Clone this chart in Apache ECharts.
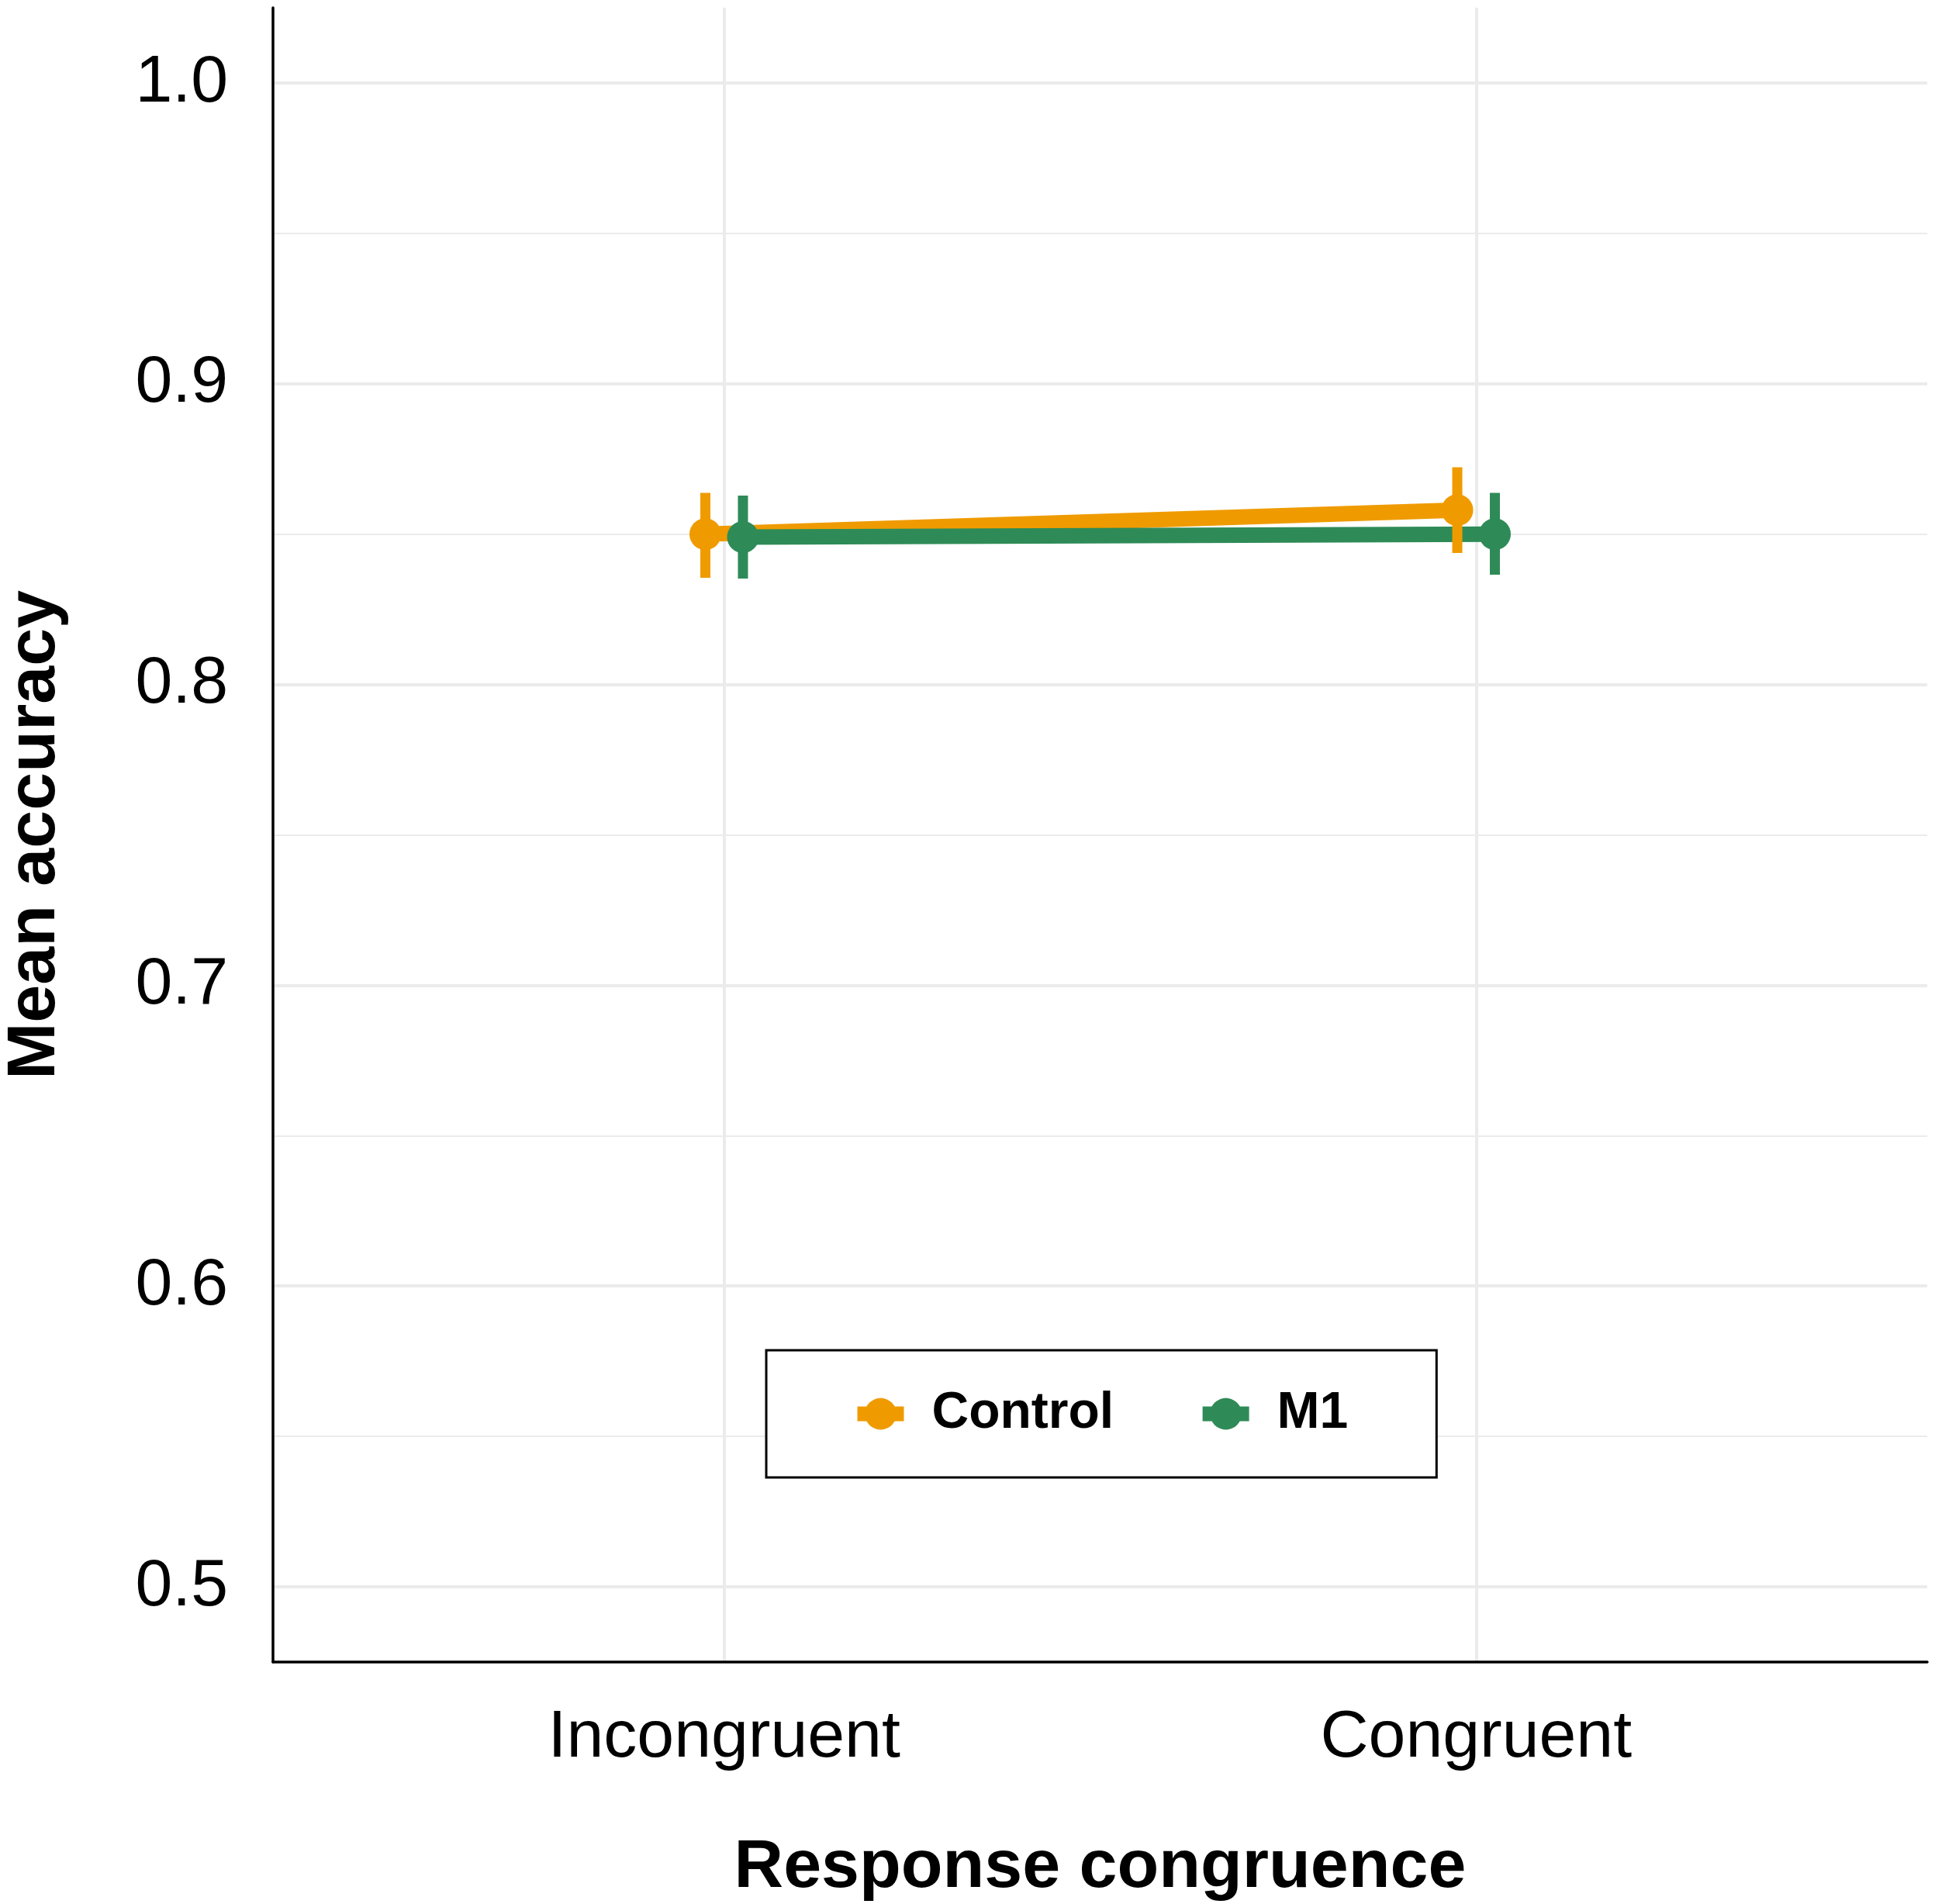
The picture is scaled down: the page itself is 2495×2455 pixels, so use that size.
<!DOCTYPE html>
<html><head><meta charset="utf-8">
<script src="https://cdn.jsdelivr.net/npm/echarts@6/dist/echarts.min.js"></script>
<style>html,body{margin:0;padding:0;background:#fff}#c{width:2495px;height:2455px}</style>
</head><body><div id="c"></div>
<script>
const categories = ['Incongruent', 'Congruent'];
const groups = ['Control', 'M1'];
const controlMean = [0.850, 0.858];
const controlLow  = [0.8355, 0.8437];
const controlHigh = [0.8637, 0.8722];
const m1Mean = [0.849, 0.850];
const m1Low  = [0.8352, 0.8365];
const m1High = [0.8628, 0.8637];
const yMajorTicks = [0.5, 0.6, 0.7, 0.8, 0.9, 1.0];
const yMinorTicks = [0.55, 0.65, 0.75, 0.85, 0.95];
const xTicks = [1, 2];

const COLORS = { Control: '#EF9B00', M1: '#2E8B57' };
const DODGE = 0.025;
const FONT = 'Liberation Sans';
const GRID = '#EBEBEB';

function pts(means, off) { return means.map((v, i) => [i + 1 + off, v]); }
function bars(lows, highs, off) { return lows.map((l, i) => [i + 1 + off, l, highs[i]]); }

function errSeries(name, data, color) {
  return {
    type: 'custom', name: name + ' err', z: 3, silent: true,
    data: data, encode: { x: 0, y: [1, 2] },
    renderItem: function (params, api) {
      const x = api.value(0);
      const a = api.coord([x, api.value(1)]);
      const b = api.coord([x, api.value(2)]);
      return { type: 'line', shape: { x1: a[0], y1: a[1], x2: b[0], y2: b[1] },
               style: { stroke: color, lineWidth: 13, lineCap: 'butt' } };
    }
  };
}
function lineSeries(name, data, color) {
  return { type: 'line', name: name, z: 2, data: data, showSymbol: false, symbol: 'circle',
           color: color, lineStyle: { color: color, width: 20, cap: 'butt' },
           itemStyle: { color: color }, silent: true };
}
function pointSeries(name, data, color) {
  return { type: 'scatter', name: name + ' pts', z: 4, data: data, symbol: 'circle',
           symbolSize: 41, itemStyle: { color: color, opacity: 1 }, silent: true };
}

const chart = echarts.init(document.getElementById('c'), null, { renderer: 'canvas' });
chart.setOption({
  animation: false,
  backgroundColor: '#fff',
  grid: { left: 352, right: 10, top: 10, bottom: 312, containLabel: false, outerBoundsMode: 'none' },
  xAxis: {
    type: 'value', min: 0.4, max: 2.6,
    axisLine: { show: true, onZero: false, lineStyle: { color: '#000', width: 3.5 } },
    axisTick: { show: false, customValues: xTicks },
    axisLabel: { customValues: xTicks, formatter: v => categories[Math.round(v) - 1] || '',
                 fontFamily: FONT, fontSize: 86, color: '#000', margin: 55 },
    splitLine: { show: true, lineStyle: { color: GRID, width: 4 } },
    name: 'Response congruence', nameLocation: 'middle', nameGap: 222,
    nameTextStyle: { fontFamily: FONT, fontWeight: 'bold', fontSize: 88, color: '#000' }
  },
  yAxis: [{
    type: 'value', min: 0.475, max: 1.025,
    axisLine: { show: true, onZero: false, lineStyle: { color: '#000', width: 3.5 } },
    axisTick: { show: false, customValues: yMajorTicks },
    axisLabel: { customValues: yMajorTicks, formatter: v => v.toFixed(1),
                 fontFamily: FONT, fontSize: 86, color: '#000', margin: 58 },
    splitLine: { show: true, lineStyle: { color: GRID, width: 4 } },
    name: 'Mean accuracy', nameLocation: 'middle', nameGap: 262,
    nameTextStyle: { fontFamily: FONT, fontWeight: 'bold', fontSize: 88, color: '#000' }
  }, {
    type: 'value', min: 0.475, max: 1.025, position: 'left',
    axisLine: { show: false }, axisLabel: { show: false },
    axisTick: { show: false, customValues: yMinorTicks },
    splitLine: { show: true, lineStyle: { color: GRID, width: 2 } }
  }],
  legend: {
    data: groups, left: 988, top: 1741, orient: 'horizontal', selectedMode: false,
    padding: [49, 114, 49, 108], itemGap: 105, itemWidth: 60, itemHeight: 51,
    borderColor: '#000', borderWidth: 3, backgroundColor: '#fff',
    lineStyle: { width: 19 },
    textStyle: { fontFamily: FONT, fontWeight: 'bold', fontSize: 66, color: '#000', padding: [0, 0, 0, 31] }
  },
  series: [
    lineSeries('Control', pts(controlMean, -DODGE), COLORS.Control),
    lineSeries('M1', pts(m1Mean, DODGE), COLORS.M1),
    errSeries('Control', bars(controlLow, controlHigh, -DODGE), COLORS.Control),
    errSeries('M1', bars(m1Low, m1High, DODGE), COLORS.M1),
    pointSeries('Control', pts(controlMean, -DODGE), COLORS.Control),
    pointSeries('M1', pts(m1Mean, DODGE), COLORS.M1)
  ]
});
</script>
</body></html>
